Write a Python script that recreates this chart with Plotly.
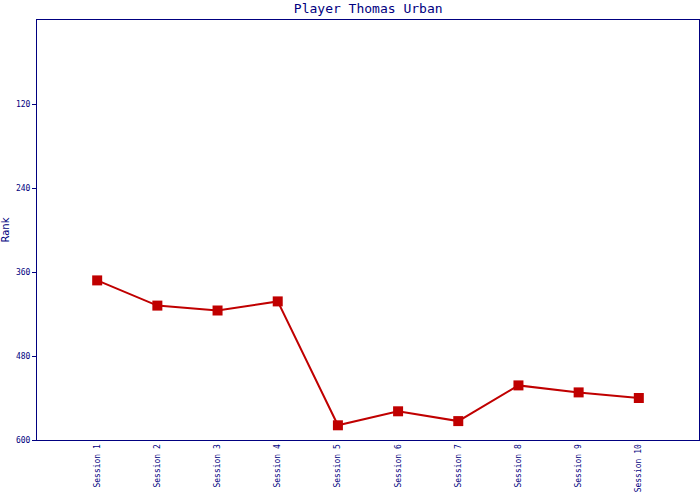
import plotly.graph_objects as go

sessions = ["Session 1", "Session 2", "Session 3", "Session 4", "Session 5",
            "Session 6", "Session 7", "Session 8", "Session 9", "Session 10"]
ranks = [372, 408, 415, 402, 579, 559, 573, 522, 532, 540]
y_ticks = [120, 240, 360, 480, 600]

navy = "#000080"
red = "#C00000"
mono = "DejaVu Sans Mono"

fig = go.Figure(go.Scatter(
    x=list(range(len(sessions))), y=ranks, mode="lines+markers",
    line=dict(color=red, width=2),
    marker=dict(symbol="square", size=10, color=red),
))

fig.update_layout(
    width=700, height=500, autosize=False,
    margin=dict(l=37, r=1, t=20, b=60, autoexpand=False),
    paper_bgcolor="white", plot_bgcolor="white",
    showlegend=False,
    title=dict(text="Player Thomas Urban", x=0.526, xanchor="center",
               y=0.984, yanchor="middle",
               font=dict(family=mono, size=13, color=navy)),
)
fig.update_xaxes(
    range=[-1, len(sessions)], tickmode="array",
    tickvals=list(range(len(sessions))), ticktext=sessions,
    tickangle=-90, tickfont=dict(family=mono, size=8, color=navy),
    showgrid=False, zeroline=False, showline=True, linecolor=navy,
    linewidth=1, mirror=True, ticks="", ticklen=0, automargin=False,
)
fig.update_yaxes(
    range=[600, 0], tickmode="array", tickvals=y_ticks,
    tickfont=dict(family=mono, size=8, color=navy),
    showgrid=False, zeroline=False, showline=True, linecolor=navy,
    linewidth=1, mirror=True, ticks="outside", ticklen=4, tickcolor=navy,
    automargin=False,
    title=dict(text="Rank", font=dict(family="DejaVu Sans", size=10, color=navy),
               standoff=8),
)

fig.write_html(
    "out.html",
    config={"responsive": False, "displayModeBar": False},
    post_script="document.body.style.margin='0';document.body.style.overflow='hidden';",
)
